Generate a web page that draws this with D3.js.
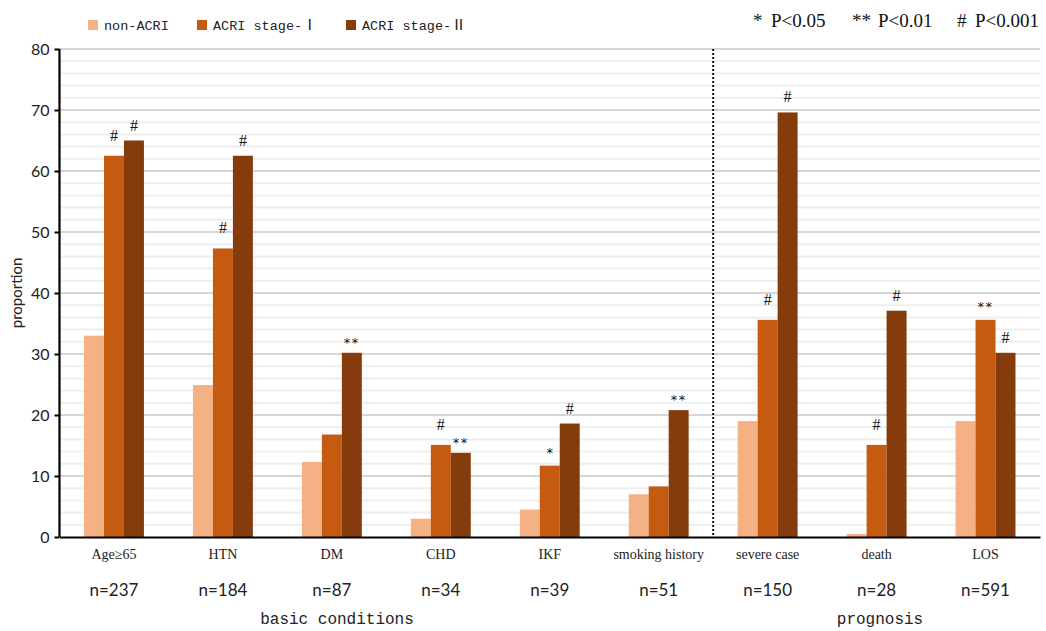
<!DOCTYPE html>
<html>
<head>
<meta charset="utf-8">
<script src="https://cdn.jsdelivr.net/npm/d3@7/dist/d3.min.js"></script>
<style>
  html, body { margin: 0; padding: 0; background: #fff; }
  svg { display: block; }
</style>
</head>
<body>
<svg id="chart" width="1046" height="631"></svg>
<script>
// ---- data ----
const categories = ["Age≥65", "HTN", "DM", "CHD", "IKF", "smoking history", "severe case", "death", "LOS"];
const nLabels = ["n=237", "n=184", "n=87", "n=34", "n=39", "n=51", "n=150", "n=28", "n=591"];
const seriesNames = ["non-ACRI", "ACRI stage-Ⅰ", "ACRI stage-Ⅱ"];
const nonACRI = [33.0, 24.9, 12.3, 3.0, 4.5, 7.0, 19.0, 0.5, 19.0];
const stageI  = [62.5, 47.3, 16.8, 15.1, 11.7, 8.3, 35.6, 15.1, 35.6];
const stageII = [65.0, 62.5, 30.2, 13.8, 18.6, 20.8, 69.6, 37.1, 30.2];
const sigNon  = ["", "", "", "", "", "", "", "", ""];
const sigI    = ["#", "#", "", "#", "*", "", "#", "#", "**"];
const sigII   = ["#", "#", "**", "**", "#", "**", "#", "#", "#"];
const yTicks = [0, 10, 20, 30, 40, 50, 60, 70, 80];
const minorTicks = d3.range(0, 81, 2);
const groupLabels = ["basic conditions", "prognosis"];
const pSymbols = ["*", "**", "#"];
const pTexts = ["P<0.05", "P<0.01", "P<0.001"];

const colors = ["#F4B183", "#C55A11", "#843C0C"];
const seriesValues = [nonACRI, stageI, stageII];
const seriesSig = [sigNon, sigI, sigII];

// ---- layout ----
const svg = d3.select("#chart");
const margin = { left: 59.5, right: 6, top: 49, bottom: 94 };
const W = 1046, H = 631;
const x0 = d3.scaleBand().domain(categories).range([margin.left, W - margin.right]).paddingInner(0.45).paddingOuter(0.225);
const x1 = d3.scaleBand().domain(seriesNames).range([0, x0.bandwidth()]);
const y = d3.scaleLinear().domain([0, 80]).range([H - margin.bottom, margin.top]);

// gridlines
const g = svg.append("g");
g.selectAll("line.minor").data(minorTicks.filter(d => d % 10 !== 0)).join("line")
  .attr("x1", margin.left).attr("x2", W - margin.right)
  .attr("y1", d => y(d)).attr("y2", d => y(d))
  .attr("stroke", "#eeeeee").attr("stroke-width", 2);
g.selectAll("line.major").data(yTicks.filter(d => d > 0)).join("line")
  .attr("x1", margin.left).attr("x2", W - margin.right)
  .attr("y1", d => y(d)).attr("y2", d => y(d))
  .attr("stroke", "#d6d6d6").attr("stroke-width", 2);

// bars
const groups = svg.append("g").selectAll("g").data(categories).join("g")
  .attr("transform", d => `translate(${x0(d)},0)`);
seriesNames.forEach((s, si) => {
  groups.append("rect")
    .attr("x", x1(s))
    .attr("width", x1.bandwidth())
    .attr("y", (d, i) => y(seriesValues[si][i]))
    .attr("height", (d, i) => y(0) - y(seriesValues[si][i]))
    .attr("fill", colors[si]);
  groups.append("text")
    .attr("x", x1(s) + x1.bandwidth() / 2)
    .attr("y", (d, i) => y(seriesValues[si][i]) - (seriesSig[si][i] === "#" ? (si === 1 ? 15 : 10) : (si === 1 ? 9 : 6)))
    .attr("text-anchor", "middle")
    .attr("font-family", (d, i) => seriesSig[si][i] === "#" ? "Liberation Serif" : "DejaVu Sans")
    .attr("font-size", (d, i) => seriesSig[si][i] === "#" ? 16 : 13)
    .attr("letter-spacing", (d, i) => seriesSig[si][i] === "**" ? 1.5 : 0)
    .attr("fill", "#111")
    .text((d, i) => seriesSig[si][i]);
});

// dotted separator between the two groups
const sepX = x0(categories[5]) + x0.bandwidth() + x0.step() * x0.paddingInner() / 2;
svg.append("line")
  .attr("x1", sepX).attr("x2", sepX)
  .attr("y1", y(80)).attr("y2", y(0))
  .attr("stroke", "#111").attr("stroke-width", 2).attr("stroke-dasharray", "2,2");

// y axis
const yAxis = svg.append("g").attr("transform", `translate(${margin.left},0)`)
  .call(d3.axisLeft(y).tickValues(yTicks).tickSize(5).tickPadding(5));
yAxis.select(".domain").attr("stroke", "#000").attr("stroke-width", 2.2).attr("d", `M0,${y(80)}V${y(0)}`);
yAxis.selectAll(".tick line").attr("stroke", "#000").attr("stroke-width", 2);
yAxis.selectAll(".tick text").attr("font-family", "Lato").attr("font-size", 16).attr("fill", "#222");

// x axis
const xAxis = svg.append("g").attr("transform", `translate(0,${y(0)})`)
  .call(d3.axisBottom(x0).tickSize(0).tickPadding(12));
xAxis.select(".domain").attr("stroke", "#000").attr("stroke-width", 2.2);
xAxis.selectAll(".tick text").attr("font-family", "Liberation Serif").attr("font-size", 14).attr("fill", "#222");

// n labels
svg.append("g").selectAll("text").data(categories).join("text")
  .attr("x", d => x0(d) + x0.bandwidth() / 2)
  .attr("y", 596)
  .attr("text-anchor", "middle")
  .attr("font-family", "Lato").attr("font-size", 17).attr("fill", "#222")
  .text((d, i) => nLabels[i]);

// group labels
const groupCenters = [337, 880];
svg.append("g").selectAll("text").data(groupLabels).join("text")
  .attr("x", (d, i) => groupCenters[i])
  .attr("y", 624)
  .attr("text-anchor", "middle")
  .attr("font-family", "Liberation Mono").attr("font-size", 16).attr("fill", "#222")
  .text(d => d);

// y label
svg.append("text")
  .attr("transform", `translate(22,${(y(80) + y(0)) / 2}) rotate(-90)`)
  .attr("text-anchor", "middle")
  .attr("font-family", "Lato").attr("font-size", 15).attr("fill", "#222")
  .text("proportion");

// legend
const legendX = [88, 197, 346];
const lg = svg.append("g").selectAll("g").data(seriesNames).join("g")
  .attr("transform", (d, i) => `translate(${legendX[i]},20)`);
lg.append("rect").attr("width", 10).attr("height", 10).attr("fill", (d, i) => colors[i]);
lg.each(function(d, i) {
  const t = d3.select(this).append("text").attr("x", 16).attr("y", 10)
    .attr("font-family", "Liberation Mono").attr("font-size", 13.5).attr("fill", "#222");
  const m = d.match(/^(.*?)([ⅠⅡ]?)$/);
  t.append("tspan").text(m[1]);
  if (m[2]) t.append("tspan").attr("font-family", "Noto Sans CJK SC").attr("font-size", 15).text(m[2]);
});

// p-value legend
const pSymX = [753, 852, 957];
const pTxtX = [771, 878, 975];
const pl = svg.append("g");
pl.selectAll("text.sym").data(pSymbols).join("text")
  .attr("x", (d, i) => pSymX[i]).attr("y", 27)
  .attr("font-family", "Liberation Serif").attr("font-size", 19).attr("fill", "#111")
  .text(d => d);
pl.selectAll("text.ptxt").data(pTexts).join("text")
  .attr("x", (d, i) => pTxtX[i]).attr("y", 27)
  .attr("font-family", "Liberation Serif").attr("font-size", 19).attr("fill", "#111")
  .text(d => d);
</script>
</body>
</html>
